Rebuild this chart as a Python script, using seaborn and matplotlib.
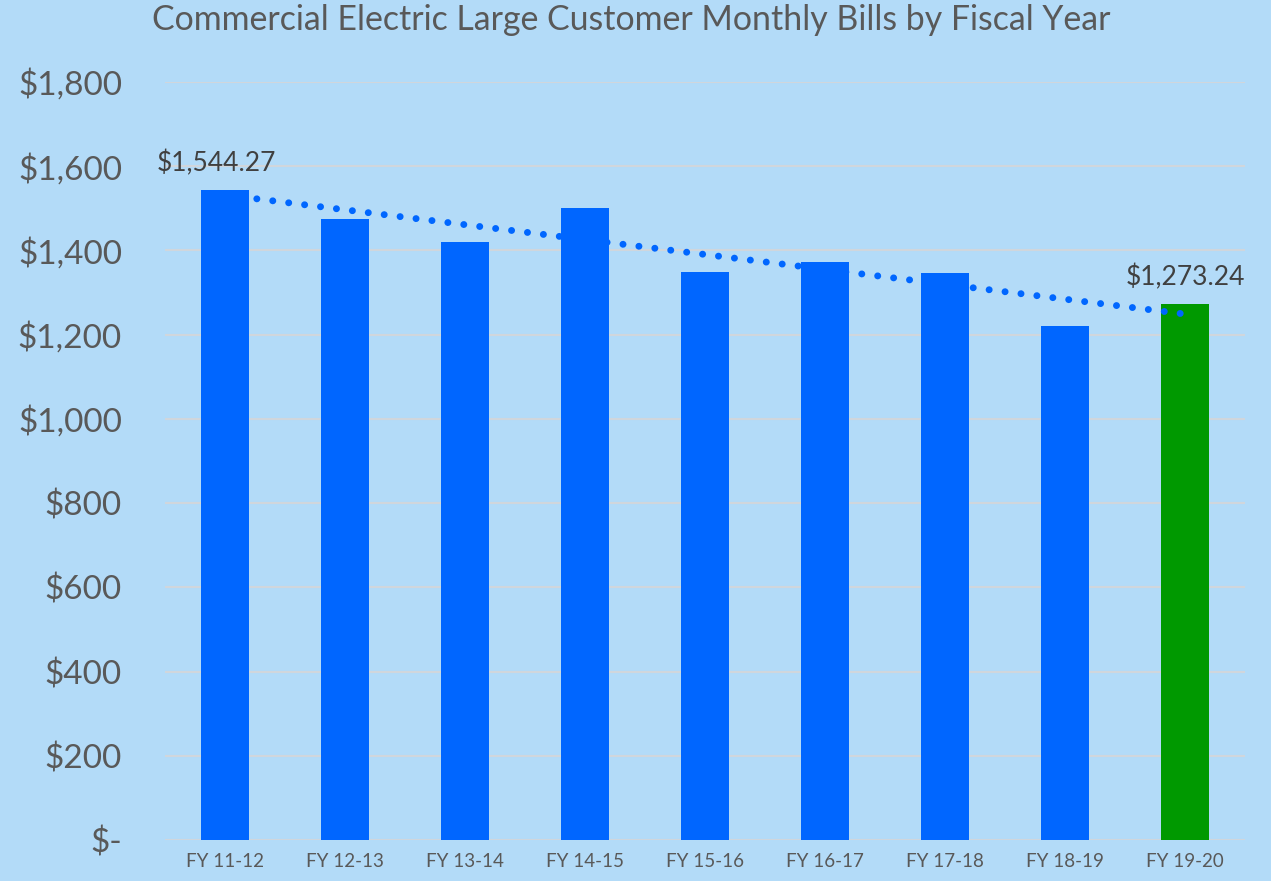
import numpy as np
import matplotlib
matplotlib.use('Agg')
import matplotlib.pyplot as plt
import seaborn as sns

# ==============================================================================
# DATA
# ==============================================================================
fiscal_years = ['FY 11-12', 'FY 12-13', 'FY 13-14', 'FY 14-15', 'FY 15-16',
                'FY 16-17', 'FY 17-18', 'FY 18-19', 'FY 19-20']
monthly_bills = [1544.27, 1475, 1419, 1502, 1348, 1372, 1347, 1221, 1273.24]
bar_colors = ['#0066FF'] * 8 + ['#009900']

# linear trend line, start / end values (first and last fiscal year)
trend_values = [1532, 1249]

y_ticks = [0, 200, 400, 600, 800, 1000, 1200, 1400, 1600, 1800]
y_tick_labels = ['$-', '$200', '$400', '$600', '$800', '$1,000',
                 '$1,200', '$1,400', '$1,600', '$1,800']

# which bars carry a value label
labelled = [0, 8]

# ==============================================================================
# STYLE
# ==============================================================================
BG = '#B3DBF8'
GRID = '#D0D6DC'
TEXT = '#595959'
DARK = '#404040'

sns.set_style('white')
plt.rcParams['font.family'] = ['Lato', 'DejaVu Sans']

fig = plt.figure(figsize=(12.71, 8.81), dpi=100, facecolor=BG)
ax = fig.add_axes([0.1298, 0.0465, 0.8497, 0.8604])
ax.set_facecolor(BG)

sns.barplot(x=fiscal_years, y=monthly_bills, hue=fiscal_years, palette=bar_colors,
            legend=False, width=0.4, saturation=1, ax=ax)

# green bar sits behind the trend line, blue bars in front of it
for i, p in enumerate(ax.patches):
    p.set_zorder(1 if i == len(ax.patches) - 1 else 3)
    p.set_linewidth(0)

ax.plot([0, len(fiscal_years) - 1], trend_values, color='#0066FF', lw=5,
        linestyle=(0, (0.01, 2.3)), dash_capstyle='round', zorder=2)

for i in labelled:
    dx = -6 if i == 0 else 0
    ax.annotate(f'${monthly_bills[i]:,.2f}', (i, monthly_bills[i]),
                xytext=(dx, 10), textcoords='offset points',
                ha='center', va='bottom', fontsize=19, color=DARK)

ax.set_ylim(0, 1800)
ax.set_xlim(-0.5, len(fiscal_years) - 0.5)
ax.set_yticks(y_ticks)
ax.set_yticklabels(y_tick_labels)
ax.yaxis.grid(True, color=GRID, lw=1.5, zorder=0)
ax.set_axisbelow(True)
for s in ax.spines.values():
    s.set_visible(False)

ax.tick_params(axis='y', length=0, pad=31, labelsize=24, labelcolor=TEXT)
ax.tick_params(axis='x', length=0, pad=9, labelsize=13.5, labelcolor=TEXT)
ax.set_xlabel('')
ax.set_ylabel('')

fig.suptitle('Commercial Electric Large Customer Monthly Bills by Fiscal Year',
             x=0.497, y=0.995, va='top', fontsize=24.4, color=TEXT)

fig.savefig('out.png', dpi=100, facecolor=BG)
